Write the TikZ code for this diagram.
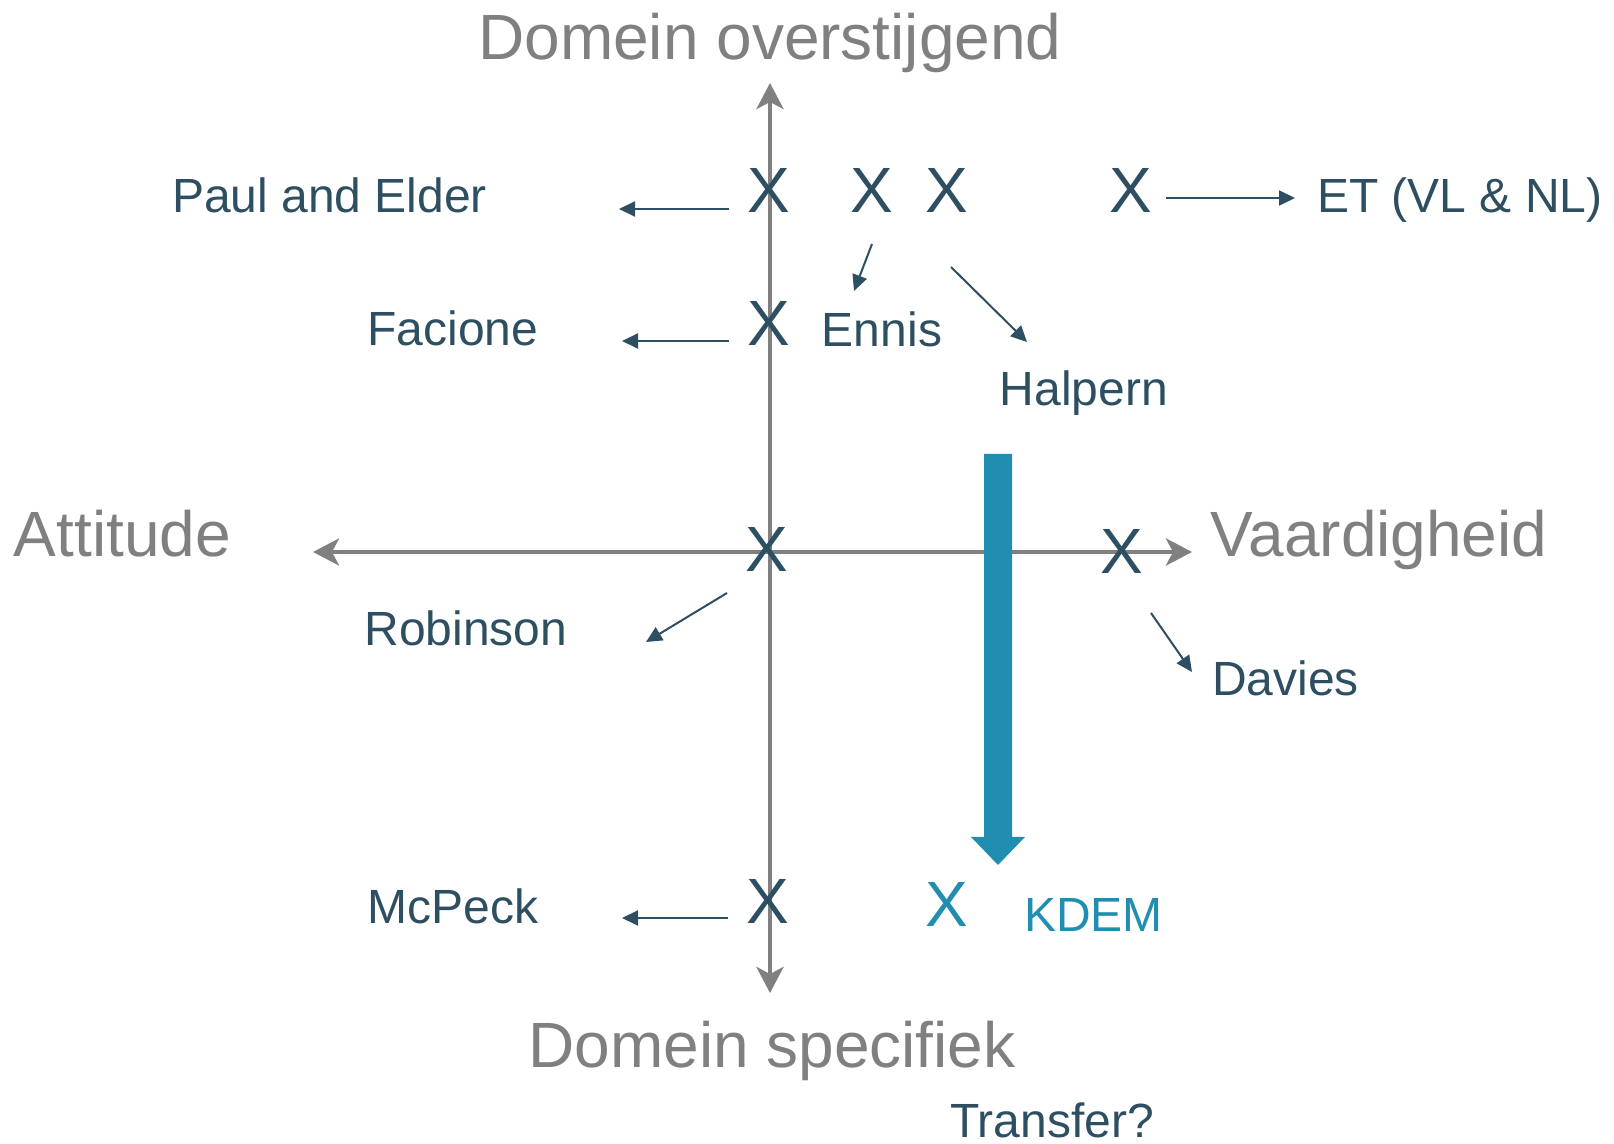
\documentclass[tikz,border=0pt]{standalone}
\usepackage{fontspec}
\setmainfont{Liberation Sans}
\usetikzlibrary{arrows.meta}
\definecolor{axisgray}{RGB}{128,128,128}
\definecolor{darkslate}{RGB}{46,79,97}
\definecolor{kdemblue}{RGB}{32,142,177}
\begin{document}
\begin{tikzpicture}[x=0.5pt,y=-0.5pt,
  title/.style={text=axisgray, font=\fontsize{32}{32}\selectfont, anchor=base, inner sep=0pt},
  lbl/.style={text=darkslate, font=\fontsize{24}{24}\selectfont, anchor=base, inner sep=0pt},
  xmark/.style={text=darkslate, font=\fontsize{32}{32}\selectfont, anchor=base, inner sep=0pt},
  axisline/.style={draw=axisgray, line width=2.25pt,
    {Stealth[length=13pt,width=13.5pt,inset=3.5pt]}-{Stealth[length=13pt,width=13.5pt,inset=3.5pt]}},
  ptr/.style={draw=darkslate, line width=1pt, -{Triangle[length=8pt,width=7.5pt]}}
]
\useasboundingbox (0,0) rectangle (1614,1144);

% axes
\coordinate (vtop) at (770,83);
\coordinate (vbot) at (770,993);
\coordinate (hleft) at (313,552);
\coordinate (hright) at (1192,552);
\draw[axisline] (vbot) -- (vtop);
\draw[axisline] (hleft) -- (hright);

% block arrow
\fill[kdemblue] (984,454) -- (1012,454) -- (1012,837) -- (1025,837) -- (998,865)
  -- (971,837) -- (984,837) -- cycle;

% titles
\node[title] (tTop) at (770,60) {Domein overstijgend};
\node[title] (tBot) at (772,1067) {Domein specifiek};
\node[title] (tLeft) at (122.5,557) {Attitude};
\node[title] (tRight) at (1379,557) {Vaardigheid};

% X marks
\node[xmark] (x1) at (769,213) {X};
\node[xmark] (x2) at (872,213) {X};
\node[xmark] (x3) at (947,213) {X};
\node[xmark] (x4) at (1131,213) {X};
\node[xmark] (x5) at (769,346) {X};
\node[xmark] (x6) at (767,572) {X};
\node[xmark] (x7) at (1122,574) {X};
\node[xmark] (x8) at (768,923) {X};
\node[xmark, text=kdemblue] (x9) at (947,927) {X};

% labels
\node[lbl] (paul) at (329.5,213) {Paul and Elder};
\node[lbl] (facione) at (453,346) {Facione};
\node[lbl] (ennis) at (882,347) {Ennis};
\node[lbl] (halpern) at (1084,405.6) {Halpern};
\node[lbl] (et) at (1460,212.5) {ET (VL \& NL)};
\node[lbl] (robinson) at (466,646) {Robinson};
\node[lbl] (davies) at (1285.6,696) {Davies};
\node[lbl] (mcpeck) at (453,923) {McPeck};
\node[lbl, text=kdemblue] (kdem) at (1093.6,931.5) {KDEM};
\node[lbl] (transfer) at (1052,1137) {Transfer?};

% pointer arrows
\coordinate (pa1) at (729,209);  \coordinate (pa2) at (619,209);
\coordinate (fa1) at (729,341);  \coordinate (fa2) at (622,341);
\coordinate (ma1) at (728,918);  \coordinate (ma2) at (622,918);
\coordinate (ea1) at (1166,198); \coordinate (ea2) at (1295,198);
\coordinate (na1) at (872,244);  \coordinate (na2) at (854,291);
\coordinate (ha1) at (951,267);  \coordinate (ha2) at (1027,342);
\coordinate (ra1) at (727,593);  \coordinate (ra2) at (646,642);
\coordinate (da1) at (1151,613); \coordinate (da2) at (1192,672);
\draw[ptr] (pa1) -- (pa2);
\draw[ptr] (fa1) -- (fa2);
\draw[ptr] (ma1) -- (ma2);
\draw[ptr] (ea1) -- (ea2);
\draw[ptr] (na1) -- (na2);
\draw[ptr] (ha1) -- (ha2);
\draw[ptr] (ra1) -- (ra2);
\draw[ptr] (da1) -- (da2);
\end{tikzpicture}
\end{document}
